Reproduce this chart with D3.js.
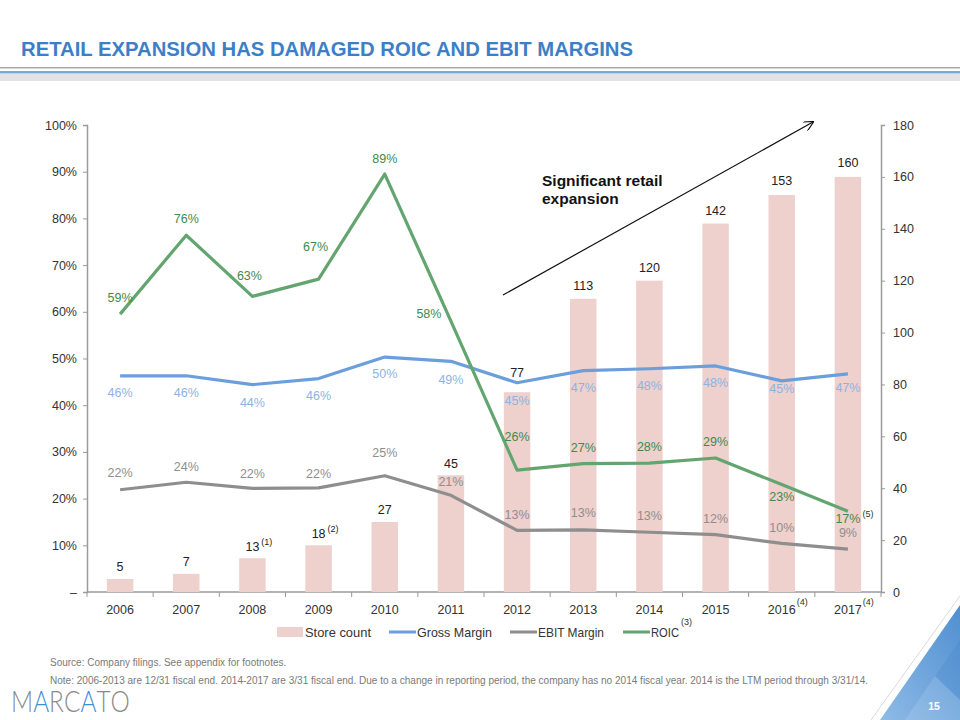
<!DOCTYPE html>
<html><head><meta charset="utf-8">
<script src="https://cdn.jsdelivr.net/npm/d3@7"></script>
<style>
body{margin:0;background:#fff;}
text{font-family:"Liberation Sans",Arial,sans-serif;}
</style></head>
<body><svg id="c" width="960" height="720"></svg>
<script>
const years = ["2006","2007","2008","2009","2010","2011","2012","2013","2014","2015","2016","2017"];
const yearNotes = ["","","","","","","","","","","(4)","(4)"];
const storeCount = [5,7,13,18,27,45,77,113,120,142,153,160];
const storeNotes = ["","","(1)","(2)","","","","","","","",""];
const grossMargin = [46.3,46.3,44.4,45.7,50.3,49.4,44.8,47.4,47.8,48.4,45.2,46.7];
const grossLabels = ["46%","46%","44%","46%","50%","49%","45%","47%","48%","48%","45%","47%"];
const ebitMargin = [21.9,23.5,22.2,22.3,24.9,20.7,13.2,13.3,12.8,12.3,10.4,9.2];
const ebitLabels = ["22%","24%","22%","22%","25%","21%","13%","13%","13%","12%","10%","9%"];
const roic = [59.5,76.4,63.3,67.0,89.5,58.0,26.1,27.5,27.6,28.7,23.0,17.3];
const roicLabels = ["59%","76%","63%","67%","89%","58%","26%","27%","28%","29%","23%","17%"];
const roicNotes = ["","","","","","","","","","","","(5)"];
const leftTicks = [0,10,20,30,40,50,60,70,80,90,100];
const rightTicks = [0,20,40,60,80,100,120,140,160,180];
const legendNames = ["Store count","Gross Margin","EBIT Margin","ROIC"];
const legendNotes = ["","","","(3)"];

// label placement (layout only)
const roicDx = [0,0,-3,-3,0,-22,0,0,0,0,0,0];
const roicDy = [-17,-17,-21,-32,-15,-8,-33,-16,-16,-16,12,7];
const grossDy = [17,17,18,17,17,18,18,17,17,17,8,14];
const ebitDy = [-17,-16,-15,-14,-23,-14,-16,-17,-17,-16,-16,-16];
const storeDy = [-12,-12,-12,-12,-12,-12,-20,-13,-13,-13,-14,-14];

const svg = d3.select("#c");
const L = 87, R = 881, T = 125, B = 592;

// header
svg.append("text").attr("x",21).attr("y",56).attr("font-size",19.5).attr("font-weight","bold")
  .attr("fill","#3b7fc9").attr("textLength",612).attr("lengthAdjust","spacingAndGlyphs")
  .text("RETAIL EXPANSION HAS DAMAGED ROIC AND EBIT MARGINS");
svg.append("rect").attr("x",0).attr("y",67).attr("width",960).attr("height",1.5).attr("fill","#a9a9a9");
svg.append("rect").attr("x",0).attr("y",71).attr("width",960).attr("height",2.5).attr("fill","#78a9dc");
svg.append("rect").attr("x",0).attr("y",74).attr("width",960).attr("height",7).attr("fill","#e3e3e3");

const x = d3.scaleBand().domain(years).range([L,R]).padding(0);
const bw = x.bandwidth();
const cx = d => x(d) + bw/2;
const yL = d3.scaleLinear().domain([0,100]).range([B,T]);
const yR = d3.scaleLinear().domain([0,180]).range([B,T]);

// axes
const axisColor = "#9a9a9a";
const gL = svg.append("g").attr("transform",`translate(${L},0)`)
  .call(d3.axisLeft(yL).tickValues(leftTicks).tickSize(4).tickPadding(6).tickFormat(d => d===0 ? "–" : d+"%"));
const gR = svg.append("g").attr("transform",`translate(${R},0)`)
  .call(d3.axisRight(yR).tickValues(rightTicks).tickSize(4).tickPadding(8).tickFormat(d3.format("d")));
[gL,gR].forEach(g=>{
  g.select(".domain").attr("stroke",axisColor).attr("stroke-width",1.5);
  g.selectAll(".tick line").attr("stroke",axisColor);
  g.selectAll(".tick text").attr("font-size",12.5).attr("fill","#333").style("font-family","'Liberation Sans',sans-serif");
});
// x axis
svg.append("line").attr("x1",L).attr("x2",R).attr("y1",B).attr("y2",B).attr("stroke",axisColor).attr("stroke-width",1.5);
const bounds = years.map(d=>x(d)).concat([R]);
svg.selectAll(".xt").data(bounds).enter().append("line")
  .attr("x1",d=>d).attr("x2",d=>d).attr("y1",B).attr("y2",B+5).attr("stroke",axisColor);
const xl = svg.selectAll(".xl").data(years).enter().append("text")
  .attr("x",d=>cx(d)).attr("y",B+22).attr("text-anchor","middle").attr("font-size",12.5).attr("fill","#333").text(d=>d);
xl.each(function(d,i){
  if(yearNotes[i]){
    const w = this.getComputedTextLength();
    svg.append("text").attr("x",cx(d)+w/2+1).attr("y",B+13).attr("font-size",9).attr("fill","#333").text(yearNotes[i]);
  }
});

// bars
const barW = bw*0.4;
svg.selectAll(".bar").data(storeCount).enter().append("rect")
  .attr("x",(d,i)=>cx(years[i])-barW/2).attr("width",barW)
  .attr("y",d=>yR(d)).attr("height",d=>B-yR(d)).attr("fill","#eed0cd");

// lines
function drawLine(vals,color){
  svg.append("path").datum(vals).attr("fill","none").attr("stroke",color).attr("stroke-width",3.2)
    .attr("stroke-linejoin","round")
    .attr("d",d3.line().x((d,i)=>cx(years[i])).y(d=>yL(d)));
}
drawLine(ebitMargin,"#8e8e8e");
drawLine(grossMargin,"#6b9fdb");
drawLine(roic,"#62a56f");

// labels
function labels(vals,texts,dy,dx,color,fs){
  svg.selectAll(null).data(vals).enter().append("text")
    .attr("x",(d,i)=>cx(years[i])+(dx?dx[i]:0)).attr("y",(d,i)=>yL(d)+dy[i])
    .attr("dy","0.35em").attr("text-anchor","middle").attr("font-size",fs).attr("fill",color)
    .text((d,i)=>texts[i]);
}
labels(grossMargin,grossLabels,grossDy,null,"#8db3e2",12.5);
labels(ebitMargin,ebitLabels,ebitDy,null,"#8e8e8e",12.5);
const rl = svg.selectAll(null).data(roic).enter().append("text")
  .attr("x",(d,i)=>cx(years[i])+roicDx[i]).attr("y",(d,i)=>yL(d)+roicDy[i])
  .attr("dy","0.35em").attr("text-anchor","middle").attr("font-size",12.5).attr("fill","#3e8a4c")
  .text((d,i)=>roicLabels[i]);
rl.each(function(d,i){
  if(roicNotes[i]){
    const w=this.getComputedTextLength();
    svg.append("text").attr("x",cx(years[i])+roicDx[i]+w/2+2).attr("y",yL(d)+roicDy[i]-1)
      .attr("font-size",9).attr("fill","#333").text(roicNotes[i]);
  }
});
const sl = svg.selectAll(null).data(storeCount).enter().append("text")
  .attr("x",(d,i)=>cx(years[i])).attr("y",(d,i)=>yR(d)+storeDy[i])
  .attr("dy","0.35em").attr("text-anchor","middle").attr("font-size",12.5).attr("fill","#222")
  .text(d=>d);
sl.each(function(d,i){
  if(storeNotes[i]){
    const w=this.getComputedTextLength();
    svg.append("text").attr("x",cx(years[i])+w/2+2).attr("y",yR(d)+storeDy[i]-1)
      .attr("font-size",9).attr("fill","#222").text(storeNotes[i]);
  }
});

// annotation arrow
const defs = svg.append("defs");
defs.append("marker").attr("id","ah").attr("viewBox","0 0 10 10").attr("refX",9).attr("refY",5)
  .attr("markerWidth",10).attr("markerHeight",10).attr("markerUnits","userSpaceOnUse").attr("orient","auto")
  .append("path").attr("d","M0,0 L10,5 L0,10").attr("fill","none").attr("stroke","#111").attr("stroke-width",1.2);
svg.append("line").attr("x1",503).attr("y1",295).attr("x2",813).attr("y2",122)
  .attr("stroke","#111").attr("stroke-width",1.2).attr("marker-end","url(#ah)");
const ann = svg.append("text").attr("font-size",15.5).attr("font-weight","bold").attr("fill","#111");
ann.append("tspan").attr("x",542).attr("y",186).text("Significant retail");
ann.append("tspan").attr("x",542).attr("y",204).text("expansion");

// legend
const legColors = ["#eed0cd","#6b9fdb","#8e8e8e","#62a56f"];
const legX = [277,389,510,623];
const legW = [66,75,66,28];
const ly = 632;
legendNames.forEach((name,i)=>{
  if(i===0) svg.append("rect").attr("x",legX[i]).attr("y",ly-5).attr("width",26).attr("height",10).attr("fill",legColors[i]);
  else svg.append("line").attr("x1",legX[i]).attr("x2",legX[i]+27).attr("y1",ly).attr("y2",ly).attr("stroke",legColors[i]).attr("stroke-width",3);
  svg.append("text").attr("x",legX[i]+28).attr("y",ly).attr("dy","0.35em").attr("font-size",13).attr("fill","#333")
    .attr("textLength",legW[i]).attr("lengthAdjust","spacingAndGlyphs").text(name);
  if(legendNotes[i]){
    svg.append("text").attr("x",legX[i]+28+legW[i]+2).attr("y",ly-7).attr("font-size",9).attr("fill","#333").text(legendNotes[i]);
  }
});

// footnotes
svg.append("text").attr("x",50).attr("y",666).attr("font-size",10).attr("fill","#7a7a7a")
  .text("Source: Company filings. See appendix for footnotes.");
svg.append("text").attr("x",50).attr("y",684).attr("font-size",10).attr("fill","#7a7a7a")
  .attr("textLength",818).attr("lengthAdjust","spacingAndGlyphs")
  .text("Note: 2006-2013 are 12/31 fiscal end. 2014-2017 are 3/31 fiscal end. Due to a change in reporting period, the company has no 2014 fiscal year. 2014 is the LTM period through 3/31/14.");

// logo
const logo = svg.append("text").attr("x",0).attr("y",0).attr("font-size",30).attr("fill","#8a8a8a")
  .style("font-family","Lato,'Liberation Sans',sans-serif").style("font-weight","300");
"MARCATO".split("").forEach(ch=>{
  logo.append("tspan").attr("fill", ch==="A" ? "#3b8fd6" : "#8a8a8a").text(ch);
});
const lw = logo.node().getComputedTextLength();
logo.attr("transform",`translate(11,712) scale(${116/lw},1)`);

// corner decoration
const grad = defs.append("linearGradient").attr("id","cg").attr("x1","0").attr("y1","1").attr("x2","1").attr("y2","0");
grad.append("stop").attr("offset","0").attr("stop-color","#8fbbe6");
grad.append("stop").attr("offset","0.5").attr("stop-color","#6fa5dc");
grad.append("stop").attr("offset","1").attr("stop-color","#4f8fd0");
svg.append("line").attr("x1",871).attr("y1",720).attr("x2",960).attr("y2",596).attr("stroke","#cfcfcf").attr("stroke-width",0.8);
svg.append("polygon").attr("points","880,720 960,605 960,720").attr("fill","url(#cg)");
svg.append("polygon").attr("points","905,720 935,676 960,700 960,720").attr("fill","#ffffff").attr("opacity",0.12);
svg.append("polygon").attr("points","935,676 960,640 960,700").attr("fill","#3a7cc4").attr("opacity",0.2);
svg.append("text").attr("x",934).attr("y",710).attr("text-anchor","middle").attr("font-size",10.5).attr("font-weight","bold").attr("fill","#fff").text("15");
</script></body></html>
